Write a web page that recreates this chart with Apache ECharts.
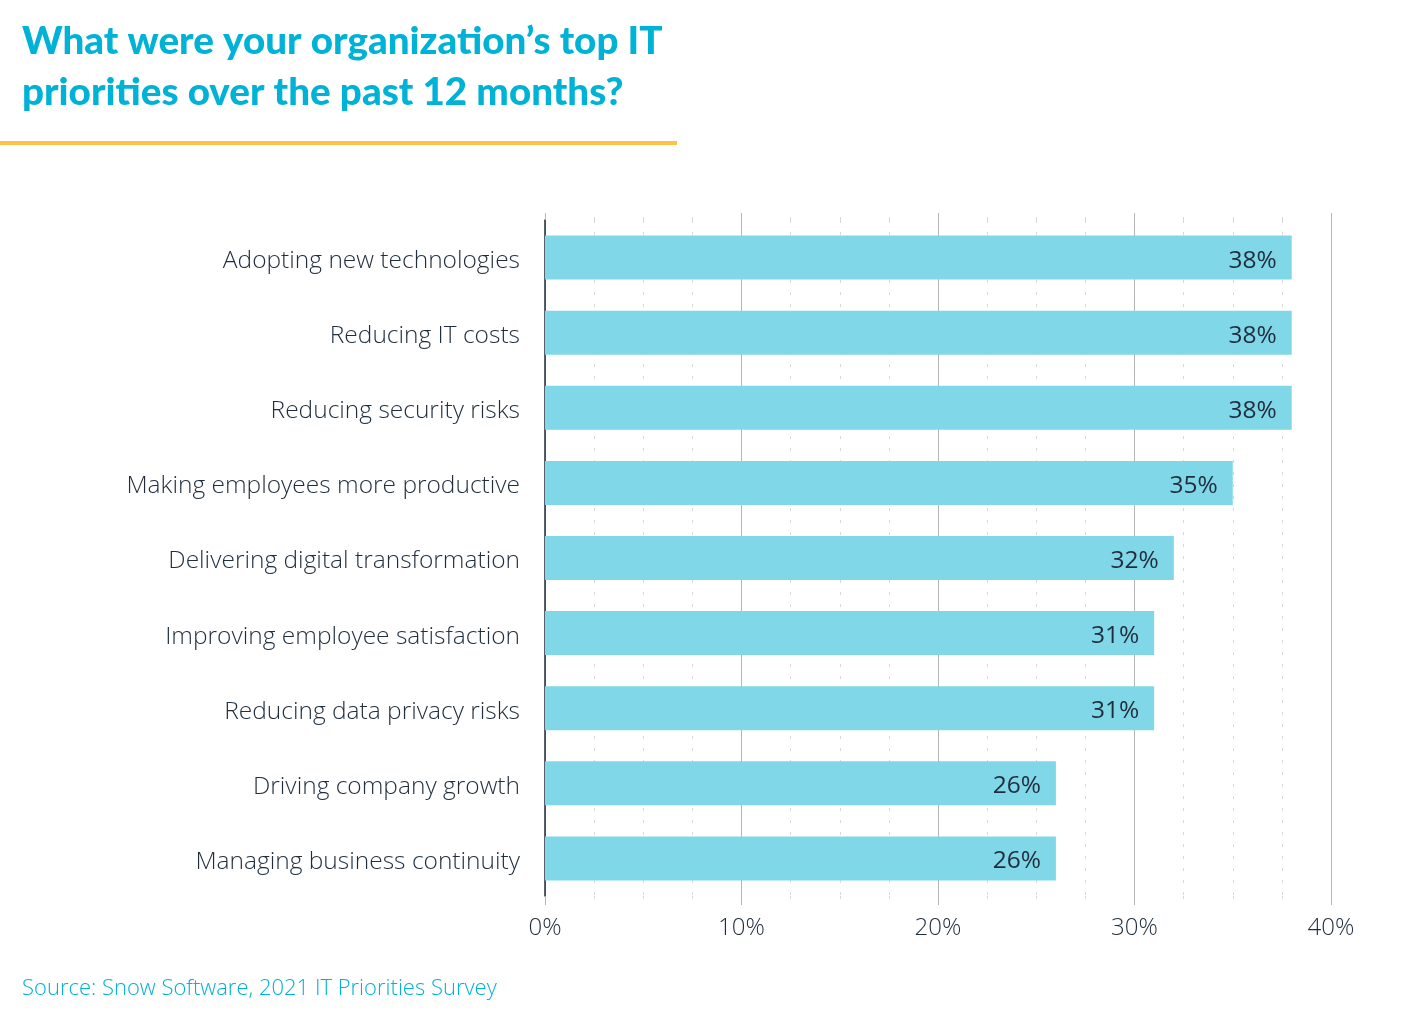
<!DOCTYPE html>
<html><head><meta charset="utf-8">
<script src="https://cdn.jsdelivr.net/npm/echarts@6/dist/echarts.min.js"></script>
<style>html,body{margin:0;padding:0;background:#fff}#c{width:1422px;height:1022px}</style>
</head><body><div id="c"></div>
<script>
const categories = ["Adopting new technologies","Reducing IT costs","Reducing security risks","Making employees more productive","Delivering digital transformation","Improving employee satisfaction","Reducing data privacy risks","Driving company growth","Managing business continuity"];
const values = [38,38,38,35,32,31,31,26,26];
const titleText = "What were your organization\u2019s top IT\npriorities over the past 12 months?";
const sourceText = "Source: Snow Software, 2021 IT Priorities Survey";

const F = '"Open Sans"';
const chart = echarts.init(document.getElementById('c'), null, {renderer:'canvas'});
const ext = (len) => ({
  axisTick:{show:true,length:len,lineStyle:{color:'#b5b5b5',width:1}},
  minorTick:{show:true,splitNumber:4,length:len,lineStyle:{color:'#d8d8d8',width:1,type:[3,9]}}
});
chart.setOption({
  animation:false,
  title:[{text:titleText,left:17,top:11,textStyle:{fontFamily:'Lato',fontWeight:900,fontSize:38.6,color:'#00b2d6',lineHeight:51}},
         {text:sourceText,left:17,top:973,textStyle:{fontFamily:F,fontWeight:300,fontSize:22,color:'#00b2d6'}}],
  graphic:[{type:'rect',shape:{x:0,y:141,width:677,height:4},style:{fill:'#fbc34a'}}],
  grid:{left:545,right:91,top:220,height:676},
  xAxis:[Object.assign({type:'value',min:0,max:40,interval:10,position:'bottom',
    axisLine:{show:false},
    axisLabel:{formatter:'{value}%',fontFamily:F,fontWeight:300,fontSize:24,color:'#1f2d3d',margin:20},
    splitLine:{show:true,lineStyle:{color:'#b5b5b5',width:1}},
    minorSplitLine:{show:true,lineStyle:{color:'#d8d8d8',width:1,type:[3,9]}}}, ext(9)),
    Object.assign({type:'value',min:0,max:40,interval:10,position:'top',
    axisLine:{show:false},axisLabel:{show:false},splitLine:{show:false}}, ext(7))],
  yAxis:{type:'category',data:categories,inverse:true,
    axisLine:{show:true,lineStyle:{color:'#1f2d3d',width:1.5}},axisTick:{show:false},
    axisLabel:{margin:25,formatter:'{a|{value}}',
      rich:{a:{fontFamily:F,fontWeight:300,fontSize:24.5,color:'#1f2d3d',lineHeight:32,verticalAlign:'bottom'}}}},
  series:[{type:'bar',data:values,barWidth:44,itemStyle:{color:'#80d7e8'},
    label:{show:true,position:'insideRight',distance:15,offset:[0,3],formatter:'{c}%',fontFamily:F,fontWeight:400,fontSize:24.5,color:'#1f2d3d'}}]
});
</script></body></html>
